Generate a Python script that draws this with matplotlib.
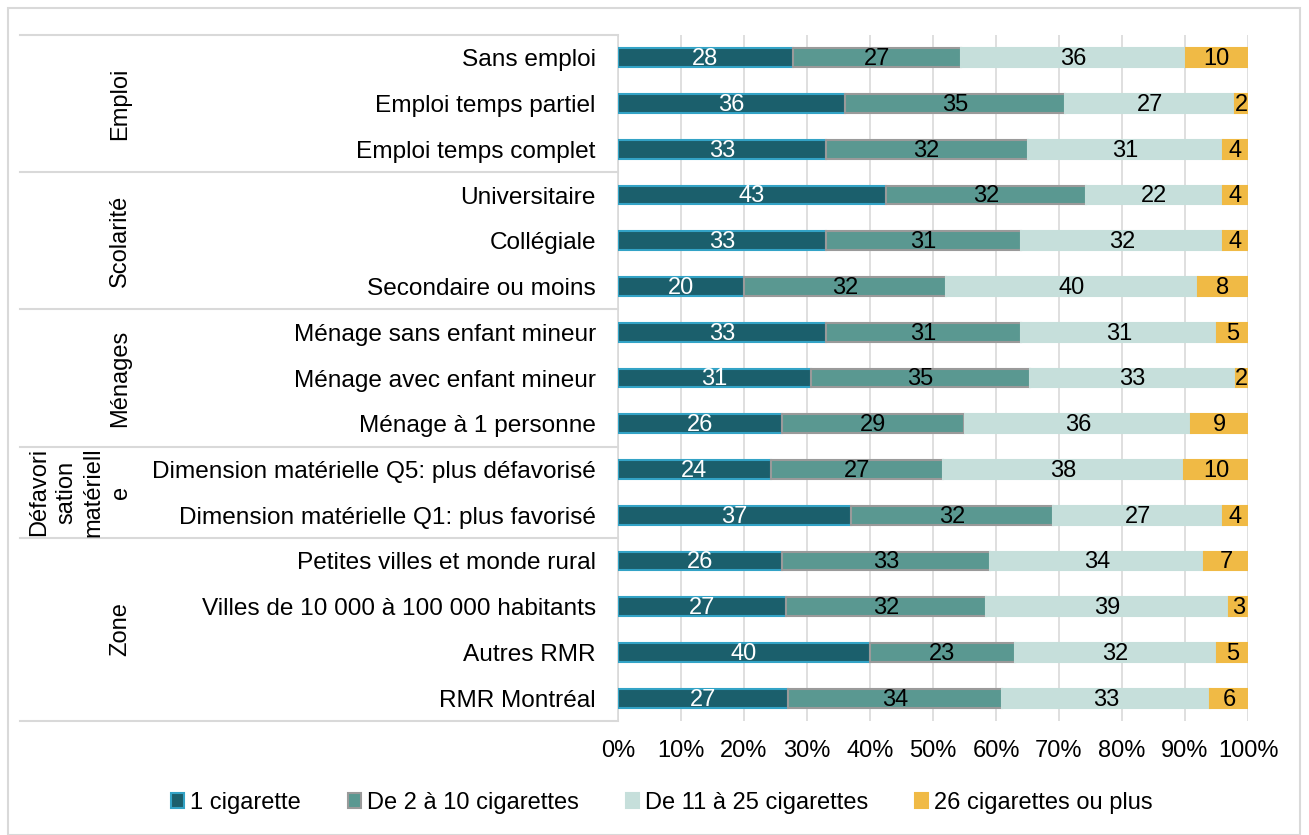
import matplotlib.pyplot as plt
from matplotlib.transforms import blended_transform_factory
from matplotlib.lines import Line2D
from matplotlib.patches import Rectangle
import numpy as np

plt.rcParams['font.family'] = ['Liberation Sans', 'DejaVu Sans']

categories = [
    "Sans emploi", "Emploi temps partiel", "Emploi temps complet",
    "Universitaire", "Collégiale", "Secondaire ou moins",
    "Ménage sans enfant mineur", "Ménage avec enfant mineur", "Ménage à 1 personne",
    "Dimension matérielle Q5: plus défavorisé", "Dimension matérielle Q1: plus favorisé",
    "Petites villes et monde rural", "Villes de 10 000 à 100 000 habitants",
    "Autres RMR", "RMR Montréal",
]
une = [28, 36, 33, 43, 33, 20, 33, 31, 26, 24, 37, 26, 27, 40, 27]
de2a10 = [27, 35, 32, 32, 31, 32, 31, 35, 29, 27, 32, 33, 32, 23, 34]
de11a25 = [36, 27, 31, 22, 32, 40, 31, 33, 36, 38, 27, 34, 39, 32, 33]
plus26 = [10, 2, 4, 4, 4, 8, 5, 2, 9, 10, 4, 7, 3, 5, 6]
series_names = ["1 cigarette", "De 2 à 10 cigarettes", "De 11 à 25 cigarettes",
                "26 cigarettes ou plus"]

groups = ["Emploi", "Scolarité", "Ménages", "Défavori\nsation\nmatériell\ne", "Zone"]
group_rows = [(0, 2), (3, 5), (6, 8), (9, 10), (11, 14)]

colors = ["#1b5f6c", "#5a9891", "#c6dfdb", "#f0ba45"]
edges = ["#33a3c6", "#9a9a9a", "#c6dfdb", "#f0ba45"]
text_colors = ["white", "black", "black", "black"]

W, H = 1309, 835
fig = plt.figure(figsize=(W / 100, H / 100), dpi=100)
ax = fig.add_axes([618 / W, 1 - 721 / H, 630 / W, (721 - 35) / H])

data = np.array([une, de2a10, de11a25, plus26], dtype=float)
shares = data / data.sum(axis=0) * 100
y = np.arange(len(categories))
left = np.zeros(len(categories))
fs = 17
for i in range(4):
    ax.barh(y, shares[i], left=left, height=0.41, color=colors[i],
            edgecolor=edges[i], linewidth=1.5, label=series_names[i], zorder=3)
    for j in range(len(categories)):
        ax.text(left[j] + shares[i][j] / 2, y[j] + 0.03, f"{int(data[i][j])}",
                ha="center", va="center", fontsize=fs, color=text_colors[i], zorder=4)
    left += shares[i]

ax.set_xlim(0, 100)
ax.set_ylim(14.5, -0.5)
ax.set_xticks(np.arange(0, 101, 10))
ax.set_xticklabels([f"{v}%" for v in range(0, 101, 10)], fontsize=fs)
ax.set_yticks(y)
ax.set_yticklabels(categories, fontsize=17.6)
ax.tick_params(axis="both", length=0)
ax.tick_params(axis="x", pad=14)
ax.tick_params(axis="y", pad=16)
ax.grid(axis="x", color="#d9d9d9", linewidth=1.2, zorder=0)
for s in ["top", "right", "bottom"]:
    ax.spines[s].set_visible(False)
ax.spines["left"].set_color("#d9d9d9")
ax.spines["left"].set_linewidth(1.2)

# group separators and labels
tr = blended_transform_factory(fig.transFigure, ax.transData)
bounds = [-0.5] + [g[1] + 0.5 for g in group_rows]
for b in bounds:
    fig.add_artist(Line2D([20 / W, 618 / W], [b, b], transform=tr,
                          color="#d9d9d9", linewidth=1.5))
for g, (a, b) in zip(groups, group_rows):
    xg = 80 / W if "\n" in g else 120 / W
    fig.text(xg, (a + b) / 2, g, transform=tr, rotation=90, ha="center",
             va="center", fontsize=fs, linespacing=1.3, multialignment="center")

fig.legend(loc="center", bbox_to_anchor=(0.5057, 1 - 803 / H), ncol=4, frameon=False,
           fontsize=fs, handlelength=0.55, handleheight=0.6, handletextpad=0.25,
           columnspacing=2.0)

fig.add_artist(Rectangle((8 / W, 0), 1292 / W, 1 - 8 / H, transform=fig.transFigure,
                         fill=False, edgecolor="#d9d9d9", linewidth=1.5))

fig.savefig("out.png", dpi=100)
